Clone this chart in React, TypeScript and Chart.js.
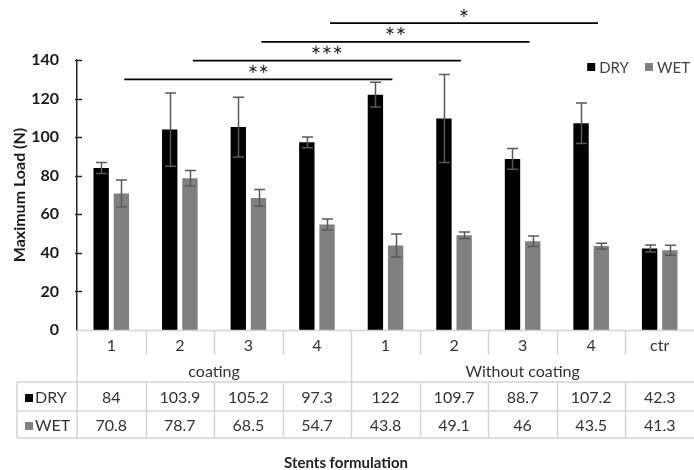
import { useEffect, useRef } from 'react';
import { Chart, registerables } from 'chart.js';

Chart.register(...registerables);

// Stent formulations (category axis) and their grouping
const formulations = ['1', '2', '3', '4', '1', '2', '3', '4', 'ctr'];
const groupLabels = ['coating', 'Without coating'];
const groupSpans = [4, 5];

// Maximum load (N) and standard deviations
const dryLoad = [84, 103.9, 105.2, 97.3, 122, 109.7, 88.7, 107.2, 42.3];
const wetLoad = [70.8, 78.7, 68.5, 54.7, 43.8, 49.1, 46, 43.5, 41.3];
const dryError = [2.8, 19, 15.5, 2.8, 6.4, 22.8, 5.4, 10.5, 1.8];
const wetError = [7, 4, 4.3, 2.8, 6, 1.7, 2.7, 1.5, 2.6];

// Y axis range
const yMin = 0;
const yMax = 140;
const yStep = 20;

// Significance comparisons (category index pairs) and their marks
const sigFrom = [0, 1, 2, 3];
const sigTo = [4, 5, 6, 7];
const sigMarks = ['**', '***', '**', '*'];

const seriesNames = ['DRY', 'WET'];
const seriesColors = ['#000000', '#808080'];

const FONT = 'Lato, "Open Sans", sans-serif';
const TEXT = '#333333';
const GRID = '#d4d4d4';

const overlay = {
  id: 'overlay',
  afterDatasetsDraw(chart: any) {
    const { ctx, scales } = chart;
    const y = scales.y;
    const errs = [dryError, wetError];
    const vals = [dryLoad, wetLoad];
    ctx.save();
    ctx.strokeStyle = '#595959';
    ctx.lineWidth = 1.5;
    for (let d = 0; d < 2; d++) {
      const meta = chart.getDatasetMeta(d);
      meta.data.forEach((el: any, i: number) => {
        const hi = y.getPixelForValue(vals[d][i] + errs[d][i]);
        const lo = y.getPixelForValue(vals[d][i] - errs[d][i]);
        const cx = Math.round(el.x) + 0.5;
        ctx.beginPath();
        ctx.moveTo(cx, hi);
        ctx.lineTo(cx, lo);
        ctx.moveTo(cx - 5.5, hi);
        ctx.lineTo(cx + 5.5, hi);
        ctx.moveTo(cx - 5.5, lo);
        ctx.lineTo(cx + 5.5, lo);
        ctx.stroke();
      });
    }
    ctx.restore();
  },
  afterDraw(chart: any) {
    const { ctx, chartArea, scales } = chart;
    const { left, right, bottom } = chartArea;
    const x = scales.x;
    const y = scales.y;
    const n = formulations.length;
    const w = (right - left) / n;
    ctx.save();

    // inner tick marks on the value axis
    ctx.strokeStyle = '#262626';
    ctx.lineWidth = 1.5;
    for (let v = yMin + yStep; v <= yMax; v += yStep) {
      const py = Math.round(y.getPixelForValue(v)) + 0.5;
      ctx.beginPath();
      ctx.moveTo(left - 2, py);
      ctx.lineTo(left + 5, py);
      ctx.stroke();
    }

    // significance brackets
    ctx.strokeStyle = '#000';
    ctx.lineWidth = 1.75;
    ctx.fillStyle = '#222';
    ctx.textAlign = 'center';
    ctx.textBaseline = 'middle';
    ctx.font = '13px "DejaVu Sans"';
    sigFrom.forEach((f, k) => {
      const x0 = x.getPixelForValue(f) + 0.19 * w;
      const x1 = x.getPixelForValue(sigTo[k]) + 0.1 * w;
      const py = y.getPixelForValue(130 + k * 9.7);
      ctx.beginPath();
      ctx.moveTo(x0, py);
      ctx.lineTo(x1, py);
      ctx.stroke();
      ctx.fillText(sigMarks[k].replace(/\*/g, '\u2217'), (x0 + x1) / 2, py - 10);
    });

    // legend, laid out from the right edge
    ctx.font = `15px ${FONT}`;
    ctx.textAlign = 'left';
    let lx = right - 4;
    const keyPos: number[] = [];
    for (let k = seriesNames.length - 1; k >= 0; k--) {
      lx -= ctx.measureText(seriesNames[k]).width;
      keyPos[k] = lx;
      lx -= 12 + 16;
    }
    seriesNames.forEach((name, k) => {
      ctx.fillStyle = seriesColors[k];
      ctx.fillRect(keyPos[k] - 12, 63, 8, 8);
      ctx.fillStyle = '#404040';
      ctx.fillText(name, keyPos[k], 68);
    });

    // data table
    const tickEnd = bottom + 25;
    const rowTop = bottom + 52;
    const rowMid = bottom + 81;
    const rowBot = bottom + 108;
    const tableLeft = 17;
    ctx.strokeStyle = GRID;
    ctx.lineWidth = 1.5;
    const line = (ax: number, ay: number, bx: number, by: number) => {
      ctx.beginPath();
      ctx.moveTo(ax, ay);
      ctx.lineTo(bx, by);
      ctx.stroke();
    };
    line(left, bottom + 0.5, right, bottom + 0.5);
    line(tableLeft, rowTop, right, rowTop);
    line(tableLeft, rowMid, right, rowMid);
    line(tableLeft, rowBot, right, rowBot);
    line(tableLeft, rowTop, tableLeft, rowBot);
    line(left, bottom, left, rowBot);
    let acc = 0;
    const groupEdges: number[] = [0];
    groupSpans.forEach((s) => {
      acc += s;
      groupEdges.push(acc);
    });
    for (let i = 1; i < n; i++) {
      const bx = Math.round(left + i * w) + 0.5;
      const full = groupEdges.includes(i);
      line(bx, bottom, bx, full ? rowBot : tickEnd);
      if (!full) line(bx, rowTop, bx, rowBot);
    }

    ctx.fillStyle = TEXT;
    ctx.textAlign = 'center';
    ctx.font = `16px ${FONT}`;
    formulations.forEach((lab, i) => {
      const cx = x.getPixelForValue(i);
      ctx.fillText(lab, cx, bottom + 16);
      ctx.fillText(String(dryLoad[i]), cx, (rowTop + rowMid) / 2 + 1);
      ctx.fillText(String(wetLoad[i]), cx, (rowMid + rowBot) / 2 + 1);
    });
    groupLabels.forEach((g, k) => {
      const gx0 = left + groupEdges[k] * w;
      const gx1 = left + groupEdges[k + 1] * w;
      ctx.fillText(g, (gx0 + gx1) / 2, bottom + 42);
    });

    // series keys in the table
    ctx.textAlign = 'left';
    const rowCenters = [(rowTop + rowMid) / 2 + 1, (rowMid + rowBot) / 2 + 1];
    seriesNames.forEach((name, k) => {
      ctx.fillStyle = seriesColors[k];
      ctx.fillRect(25, Math.round(rowCenters[k]) - 4, 8, 8);
      ctx.fillStyle = TEXT;
      ctx.fillText(name, 35, rowCenters[k]);
    });

    // axis title under the table
    ctx.textAlign = 'center';
    ctx.font = `bold 15px ${FONT}`;
    ctx.fillStyle = '#222';
    ctx.fillText('Stents formulation', 346, 463);
    ctx.restore();
  },
};

export default function App() {
  const ref = useRef<HTMLCanvasElement | null>(null);

  useEffect(() => {
    if (!ref.current) return;
    const chart = new Chart(ref.current, {
      type: 'bar',
      data: {
        labels: formulations,
        datasets: [
          { label: seriesNames[0], data: dryLoad, backgroundColor: seriesColors[0] },
          { label: seriesNames[1], data: wetLoad, backgroundColor: seriesColors[1] },
        ],
      },
      options: {
        responsive: false,
        animation: false,
        devicePixelRatio: 1,
        layout: { padding: { top: 60, bottom: 140, left: 0, right: 0 } },
        datasets: { bar: { categoryPercentage: 0.59, barPercentage: 0.76 } },
        plugins: { legend: { display: false }, tooltip: { enabled: false } },
        scales: {
          x: { display: false },
          y: {
            min: yMin,
            max: yMax,
            ticks: {
              stepSize: yStep,
              padding: 18,
              color: '#1a1a1a',
              font: { family: FONT, size: 16, weight: 'bold' },
            },
            grid: { display: false, drawTicks: false },
            border: { display: true, color: '#262626', width: 1.5 },
            title: {
              display: true,
              text: 'Maximum Load (N)',
              color: '#1a1a1a',
              font: { family: FONT, size: 16, weight: 'bold' },
              padding: { top: 10, bottom: 0 },
            },
            afterFit: (s: any) => {
              s.width = 77;
            },
          },
        },
      },
      plugins: [overlay],
    } as any);
    return () => chart.destroy();
  }, []);

  return (
    <div style={{ position: 'fixed', left: 0, top: 0, width: 694, height: 470, background: '#fff' }}>
      <canvas ref={ref} width={694} height={470} />
    </div>
  );
}
